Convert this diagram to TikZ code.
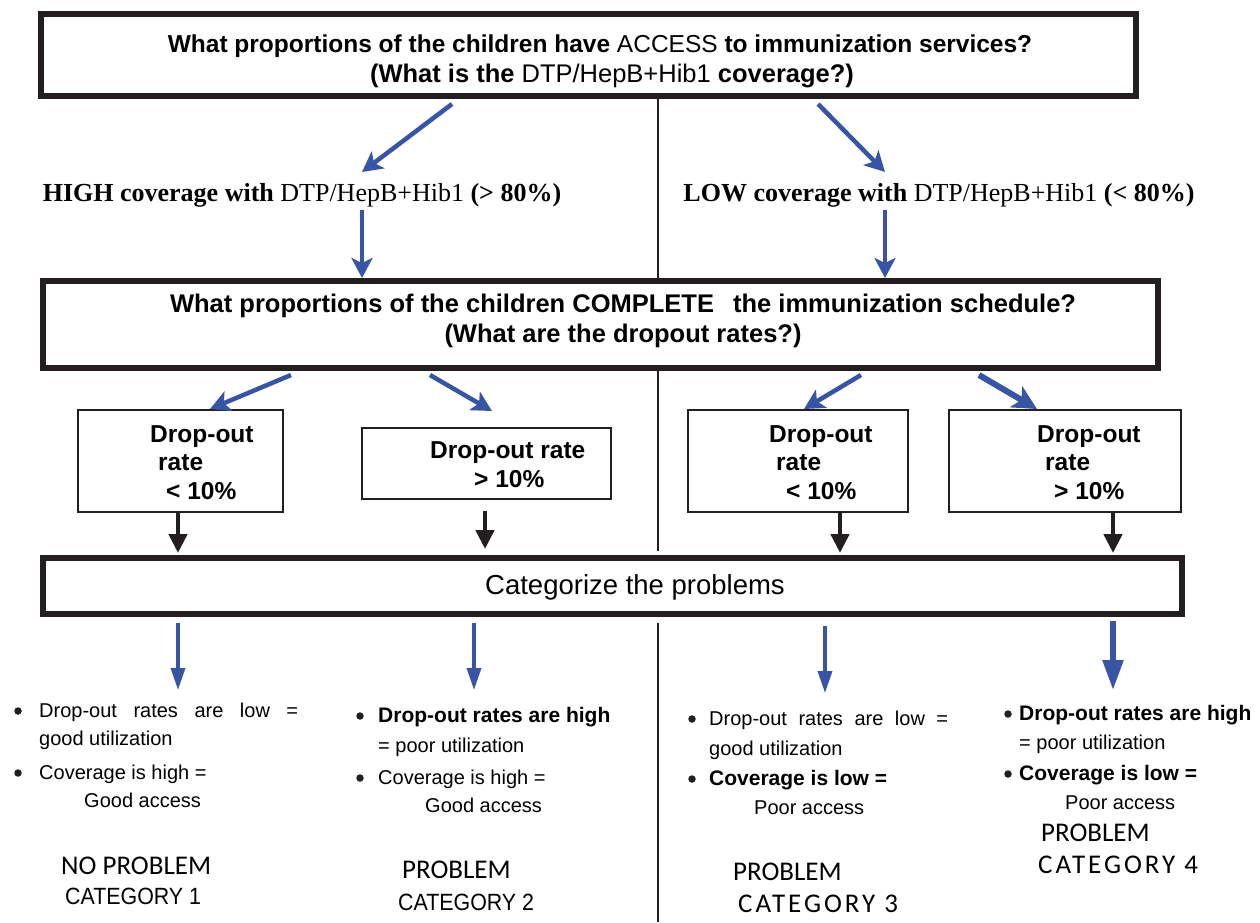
\documentclass[tikz,border=0pt]{standalone}
\usepackage{fontspec}
\setmainfont{Liberation Serif}
\setsansfont{Liberation Sans}
\newfontfamily\carlito{Carlito}
\newfontfamily\carlitowide[LetterSpace=11]{Carlito}
\usetikzlibrary{arrows.meta}
\definecolor{flowblue}{RGB}{56,84,164}
\definecolor{boxblack}{RGB}{35,31,32}
\begin{document}
\begin{tikzpicture}[x=1pt,y=-1pt,
  bigbox/.style={draw=boxblack, line width=6pt, inner sep=0pt},
  smallbox/.style={draw=boxblack, line width=2pt, inner sep=0pt},
  headtxt/.style={font=\sffamily\bfseries\fontsize{24.5}{29}\selectfont, inner sep=0pt},
  headbig/.style={font=\sffamily\bfseries\fontsize{25.5}{29}\selectfont, inner sep=0pt},
  covtxt/.style={font=\rmfamily\fontsize{26}{30}\selectfont, inner sep=0pt},
  droptxt/.style={font=\sffamily\bfseries\fontsize{24.5}{29}\selectfont, inner sep=0pt, anchor=base west},
  cattitle/.style={font=\sffamily\fontsize{27.5}{32}\selectfont, inner sep=0pt},
  bultxt/.style={font=\sffamily\fontsize{20}{24}\selectfont, inner sep=0pt, anchor=base west},
  bulbold/.style={font=\sffamily\bfseries\fontsize{21}{24}\selectfont, inner sep=0pt, anchor=base west},
  bulletdot/.style={circle, fill=boxblack, minimum size=7.5pt, inner sep=0pt},
  probtxt/.style={font=\carlito\fontsize{27}{30}\selectfont, inner sep=0pt, anchor=base west},
  probwide/.style={font=\carlitowide\fontsize{27}{30}\selectfont, inner sep=0pt, anchor=base west},
  probarial/.style={font=\sffamily\fontsize{23.5}{26}\selectfont, inner sep=0pt, anchor=base west},
  bluearrow/.style={draw=flowblue, line width=4.5pt, -{Stealth[length=20pt,width=21pt,inset=5pt]}},
  bluethick/.style={draw=flowblue, line width=6pt, -{Stealth[length=24pt,width=24pt,inset=6pt]}},
  downblue/.style={draw=flowblue, line width=3.5pt, -{Triangle[length=22pt,width=14pt]}},
  downthick/.style={draw=flowblue, line width=5.5pt, -{Triangle[length=30pt,width=20pt]}},
  blackarrow/.style={draw=boxblack, line width=4.5pt, -{Triangle[length=19pt,width=18pt]}},
  divider/.style={draw=boxblack, line width=1.6pt}
]
\useasboundingbox (0,0) rectangle (1260,922);
\fill[white] (0,0) rectangle (1260,922);

% ---------- boxes ----------
\node[bigbox, minimum width=1095pt, minimum height=82pt] (q1) at (588.5,55) {};
\node[bigbox, minimum width=1115pt, minimum height=87pt] (q2) at (600.5,324.5) {};
\node[bigbox, minimum width=1139pt, minimum height=56pt] (cat) at (612.5,586) {};
\node[smallbox, minimum width=205pt, minimum height=102pt] (b1) at (180.5,461) {};
\node[smallbox, minimum width=249pt, minimum height=71pt] (b2) at (486.5,463.5) {};
\node[smallbox, minimum width=220pt, minimum height=102pt] (b3) at (798,461) {};
\node[smallbox, minimum width=232pt, minimum height=102pt] (b4) at (1065,461) {};

% ---------- box texts ----------
\node[headtxt] (q1a) at (600,46) {What proportions of the children have \textmd{ACCESS} to immunization services?};
\node[headbig] (q1b) at (612,76) {(What is the \textmd{DTP/HepB+Hib1} coverage?)};
\node[headbig] (q2a) at (623,306) {What proportions of the children COMPLETE\hspace{12pt} the immunization schedule?};
\node[headbig] (q2b) at (623,336) {(What are the dropout rates?)};
\node[cattitle] (catt) at (635,587) {Categorize the problems};

\node[covtxt] (hi) at (302,195) {\textbf{HIGH coverage with} DTP/HepB+Hib1 \textbf{(> 80\%)}};
\node[covtxt] (lo) at (939,195) {\textbf{LOW coverage with} DTP/HepB+Hib1 \textbf{(< 80\%)}};

\node[droptxt] (b1a) at (150,442) {Drop-out};
\node[droptxt] (b1b) at (158,470) {rate};
\node[droptxt] (b1c) at (166,499) {< 10\%};
\node[droptxt] (b2a) at (430,458) {Drop-out rate};
\node[droptxt] (b2b) at (474,487) {> 10\%};
\node[droptxt] (b3a) at (769,442) {Drop-out};
\node[droptxt] (b3b) at (776,470) {rate};
\node[droptxt] (b3c) at (786,499) {< 10\%};
\node[droptxt] (b4a) at (1037,442) {Drop-out};
\node[droptxt] (b4b) at (1045,470) {rate};
\node[droptxt] (b4c) at (1054,499) {> 10\%};

% ---------- divider ----------
\coordinate (dvx) at (658,0);
\coordinate (dvbot) at (658,922);
\draw[divider] (q1.south -| dvx) -- (q2.north -| dvx);
\draw[divider, shorten >=4pt] (q2.south -| dvx) -- (cat.north -| dvx);
\draw[divider, shorten <=6pt] (cat.south -| dvx) -- (dvbot);

% ---------- arrows: top box to coverage ----------
\coordinate (hiTip) at (362,172);
\coordinate (loTip) at (885,172);
\draw[bluearrow] ([xshift=-136.5pt,yshift=-5pt]q1.south) -- (hiTip);
\draw[bluearrow] ([xshift=229.5pt,yshift=-5pt]q1.south) -- (loTip);
\coordinate (hiV) at (362,210);
\coordinate (loV) at (885,210);
\draw[bluearrow] (hiV) -- (hiV |- q2.north);
\draw[bluearrow] (loV) -- (loV |- q2.north);

% ---------- arrows: second box to drop-out boxes ----------
\draw[bluearrow] ([xshift=-309.5pt,yshift=-4pt]q2.south) -- ([xshift=29.5pt]b1.north);
\draw[bluearrow] ([xshift=-170.5pt,yshift=-4pt]q2.south) -- ([xshift=5.5pt,yshift=16pt]b2.north);
\draw[bluearrow] ([xshift=260.5pt,yshift=-4pt]q2.south) -- ([xshift=6pt]b3.north);
\draw[bluethick] ([xshift=378.5pt,yshift=-4pt]q2.south) -- ([xshift=-28pt]b4.north);

% ---------- black arrows ----------
\coordinate (k1) at (178,0);
\coordinate (k2) at (485,0);
\coordinate (k3) at (840,0);
\coordinate (k4) at (1113,0);
\draw[blackarrow, shorten >=2pt] (b1.south -| k1) -- (cat.north -| k1);
\draw[blackarrow, shorten <=11pt, shorten >=6pt] (b2.south -| k2) -- (cat.north -| k2);
\draw[blackarrow, shorten >=2pt] (b3.south -| k3) -- (cat.north -| k3);
\draw[blackarrow, shorten >=2pt] (b4.south -| k4) -- (cat.north -| k4);

% ---------- bottom blue arrows ----------
\coordinate (d1) at (178,690);
\coordinate (d2) at (474,690);
\coordinate (d3) at (825,693);
\coordinate (d4) at (1113,690);
\draw[downblue, shorten <=6pt] (cat.south -| d1) -- (d1);
\draw[downblue, shorten <=6pt] (cat.south -| d2) -- (d2);
\draw[downblue, shorten <=9pt] (cat.south -| d3) -- (d3);
\draw[downthick, shorten <=4pt] (cat.south -| d4) -- (d4);

% ---------- block 1 ----------
\node[bulletdot] (m11) at (18,711) {};
\node[bultxt] (t11) at (39,717) {\makebox[259pt][s]{Drop-out rates are low =}};
\node[bultxt] (t12) at (39,745) {good utilization};
\node[bulletdot] (m12) at (18,773) {};
\node[bultxt] (t13) at (39,779) {Coverage is high =};
\node[bultxt] (t14) at (84,807) {Good access};
\node[probtxt] (c11) at (61,874) {NO PROBLEM};
\node[probarial] (c12) at (65,904) {\scalebox{0.91}[1]{CATEGORY 1}};

% ---------- block 2 ----------
\node[bulletdot] (m21) at (360,716) {};
\node[bulbold] (t21) at (378,722) {Drop-out rates are high};
\node[bultxt] (t22) at (378,752) {= poor utilization};
\node[bulletdot] (m22) at (360,778) {};
\node[bultxt] (t23) at (378,784) {Coverage is high =};
\node[bultxt] (t24) at (425,812) {Good access};
\node[probtxt] (c21) at (402,878) {PROBLEM};
\node[probarial] (c22) at (398,910) {\scalebox{0.91}[1]{CATEGORY 2}};

% ---------- block 3 ----------
\node[bulletdot] (m31) at (692,719) {};
\node[bultxt] (t31) at (709,725) {\makebox[239pt][s]{Drop-out rates are low =}};
\node[bultxt] (t32) at (709,755) {good utilization};
\node[bulletdot] (m32) at (692,779) {};
\node[bulbold] (t33) at (709,785) {Coverage is low =};
\node[bultxt] (t34) at (754,814) {Poor access};
\node[probtxt] (c31) at (733,880) {PROBLEM};
\node[probwide] (c32) at (738,912) {CATEGORY 3};

% ---------- block 4 ----------
\node[bulletdot] (m41) at (1008,714) {};
\node[bulbold] (t41) at (1019,720) {Drop-out rates are high};
\node[bultxt] (t42) at (1019,749) {= poor utilization};
\node[bulletdot] (m42) at (1008,774) {};
\node[bulbold] (t43) at (1019,780) {Coverage is low =};
\node[bultxt] (t44) at (1065,809) {Poor access};
\node[probtxt] (c41) at (1041,841) {PROBLEM};
\node[probwide] (c42) at (1038,873) {CATEGORY 4};
\end{tikzpicture}
\end{document}
